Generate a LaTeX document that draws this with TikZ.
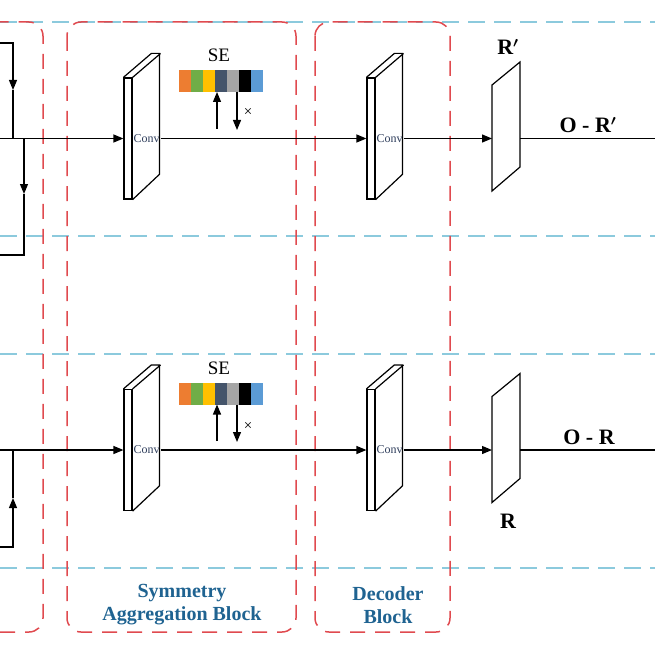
\documentclass[tikz,border=0pt]{standalone}
\usepackage{fontspec}
\setmainfont{Liberation Serif}
\usetikzlibrary{arrows.meta,positioning}
\definecolor{seorange}{HTML}{ED7D31}
\definecolor{segreen}{HTML}{70AD47}
\definecolor{seyellow}{HTML}{FFC000}
\definecolor{seslate}{HTML}{44546A}
\definecolor{segray}{HTML}{A5A5A5}
\definecolor{seblue}{HTML}{5B9BD5}
\definecolor{sepblue}{HTML}{8CCADD}
\definecolor{blkred}{HTML}{E04A4F}
\definecolor{blktxt}{HTML}{1F6391}
\definecolor{convtxt}{HTML}{2F3E5C}
\newcommand{\rprime}{R{\boldmath$'$}}

\begin{document}
\begin{tikzpicture}[x=1pt, y=-1pt, line width=1.2pt,
	arr/.style={-{Triangle[length=10pt,width=8pt]}},
	sep/.style={draw=sepblue, line width=1.6pt, dash pattern=on 17pt off 9pt},
	blk/.style={draw=blkred, line width=1.5pt, dash pattern=on 15pt off 10pt, rounded corners=14pt},
	convf/.style={draw, minimum width=8pt, minimum height=121pt, inner sep=0pt},
	convt/.style={font=\fontsize{12}{12}\selectfont, text=convtxt, inner sep=0.5pt},
	cell/.style={minimum width=12pt, minimum height=22pt, inner sep=0pt, outer sep=0pt},
	selab/.style={font=\fontsize{19}{19}\selectfont},
	timeslab/.style={font=\fontsize{15}{15}\selectfont},
	lab/.style={font=\bfseries\fontsize{22}{22}\selectfont},
	blkname/.style={font=\bfseries\fontsize{20}{23}\selectfont, text=blktxt, align=center}]
		\useasboundingbox (0,0) rectangle (655,655);
		\clip (0,0) rectangle (655,655);

		\draw[sep] (0,22) -- (655,22);
		\draw[sep] (0,236) -- (655,236);
		\draw[sep] (0,354) -- (655,354);
		\draw[sep] (0,568) -- (655,568);

		\draw[blk] (-60,22) rectangle (43,632);
		\draw[blk] (67,22) rectangle (296,632);
		\draw[blk] (315,22) rectangle (450,632);

		\node[blkname] (n1) at (182,605) {Symmetry\\Aggregation Block};
		\node[blkname] (n2) at (388,605) {Decoder\\Block};

		\coordinate (l1) at (0,43);
		\coordinate (l2) at (13,90);
		\coordinate (l3) at (13,138.5);
		\coordinate (l4) at (24,138.5);
		\coordinate (l5) at (24,194);
		\coordinate (l6) at (0,255);
		\draw[arr] (l1) -| (l2);
		\draw (l2) -- (l3);
		\draw[arr] (l4) -- (l5);
		\draw (l5) |- (l6);

		\coordinate (l7) at (0,547);
		\coordinate (l8) at (13,498);
		\coordinate (l9) at (13,450);
		\draw[arr] (l7) -| (l8);
		\draw (l8) -- (l9);

		\coordinate (in1) at (0,138.5);
		\node[convf] (c1) at (128,138.5) {};
		\draw (c1.north west) -- ++(28,-24) -- ++(8,0) -- ++(0,121) -- (c1.south east) (c1.north east) -- ++(28,-24);
		\node[convt] (t1) at (146.5,138.5) {Conv};
		\node[convf] (c2) at (371,138.5) {};
		\draw (c2.north west) -- ++(28,-24) -- ++(8,0) -- ++(0,121) -- (c2.south east) (c2.north east) -- ++(28,-24);
		\node[convt] (t2) at (389.5,138.5) {Conv};
		\coordinate (p1) at (492,138.5);
		\coordinate (p1o) at (520,138.5);
		\coordinate (e1) at (655,138.5);
		\draw (p1) ++(0,-53.5) -- ++(28,-23) -- ++(0,105) -- ++(-28,24) -- cycle;

		\draw[arr] (in1) -- (c1.west);
		\draw[arr] (t1.east) -- (c2.west);
		\draw[arr] (t2.east) -- (p1);
		\draw (p1o) -- (e1);

		\node[cell,fill=seorange] (a1) at (185,81) {};
		\node[cell,fill=segreen,right=0pt of a1] (a2) {};
		\node[cell,fill=seyellow,right=0pt of a2] (a3) {};
		\node[cell,fill=seslate,right=0pt of a3] (a4) {};
		\node[cell,fill=segray,right=0pt of a4] (a5) {};
		\node[cell,fill=black,right=0pt of a5] (a6) {};
		\node[cell,fill=seblue,right=0pt of a6] (a7) {};
		\node[selab] (s1) at (219,55) {SE};
		\coordinate (u1) at (217,129);
		\coordinate (d1) at (237,130);
		\draw[arr] (u1) -- (u1 |- a1.south);
		\draw[arr] (d1 |- a1.south) -- (d1);
		\node[timeslab] (x1) at (248,112) {×};

		\node[lab] (r1) at (508,47) {\rprime};
		\node[lab] (o1) at (588,125) {O - \rprime};

		\coordinate (in2) at (0,450);
		\node[convf] (c3) at (128,450) {};
		\draw (c3.north west) -- ++(28,-24) -- ++(8,0) -- ++(0,121) -- (c3.south east) (c3.north east) -- ++(28,-24);
		\node[convt] (t3) at (146.5,450) {Conv};
		\node[convf] (c4) at (371,450) {};
		\draw (c4.north west) -- ++(28,-24) -- ++(8,0) -- ++(0,121) -- (c4.south east) (c4.north east) -- ++(28,-24);
		\node[convt] (t4) at (389.5,450) {Conv};
		\coordinate (p2) at (492,450);
		\coordinate (p2o) at (520,450);
		\coordinate (e2) at (655,450);
		\draw (p2) ++(0,-53.5) -- ++(28,-23) -- ++(0,105) -- ++(-28,24) -- cycle;

		\draw[arr] (in2) -- (c3.west);
		\draw[arr] (t3.east) -- (c4.west);
		\draw[arr] (t4.east) -- (p2);
		\draw (p2o) -- (e2);

		\node[cell,fill=seorange] (b1) at (185,393.5) {};
		\node[cell,fill=segreen,right=0pt of b1] (b2) {};
		\node[cell,fill=seyellow,right=0pt of b2] (b3) {};
		\node[cell,fill=seslate,right=0pt of b3] (b4) {};
		\node[cell,fill=segray,right=0pt of b4] (b5) {};
		\node[cell,fill=black,right=0pt of b5] (b6) {};
		\node[cell,fill=seblue,right=0pt of b6] (b7) {};
		\node[selab] (s2) at (219,368) {SE};
		\coordinate (u2) at (217,441);
		\coordinate (d2) at (237,442);
		\draw[arr] (u2) -- (u2 |- b1.south);
		\draw[arr] (d2 |- b1.south) -- (d2);
		\node[timeslab] (x2) at (248,426) {×};

		\node[lab] (r2) at (508,521) {R};
		\node[lab] (o2) at (589,437) {O - R};
	\end{tikzpicture}
\end{document}
